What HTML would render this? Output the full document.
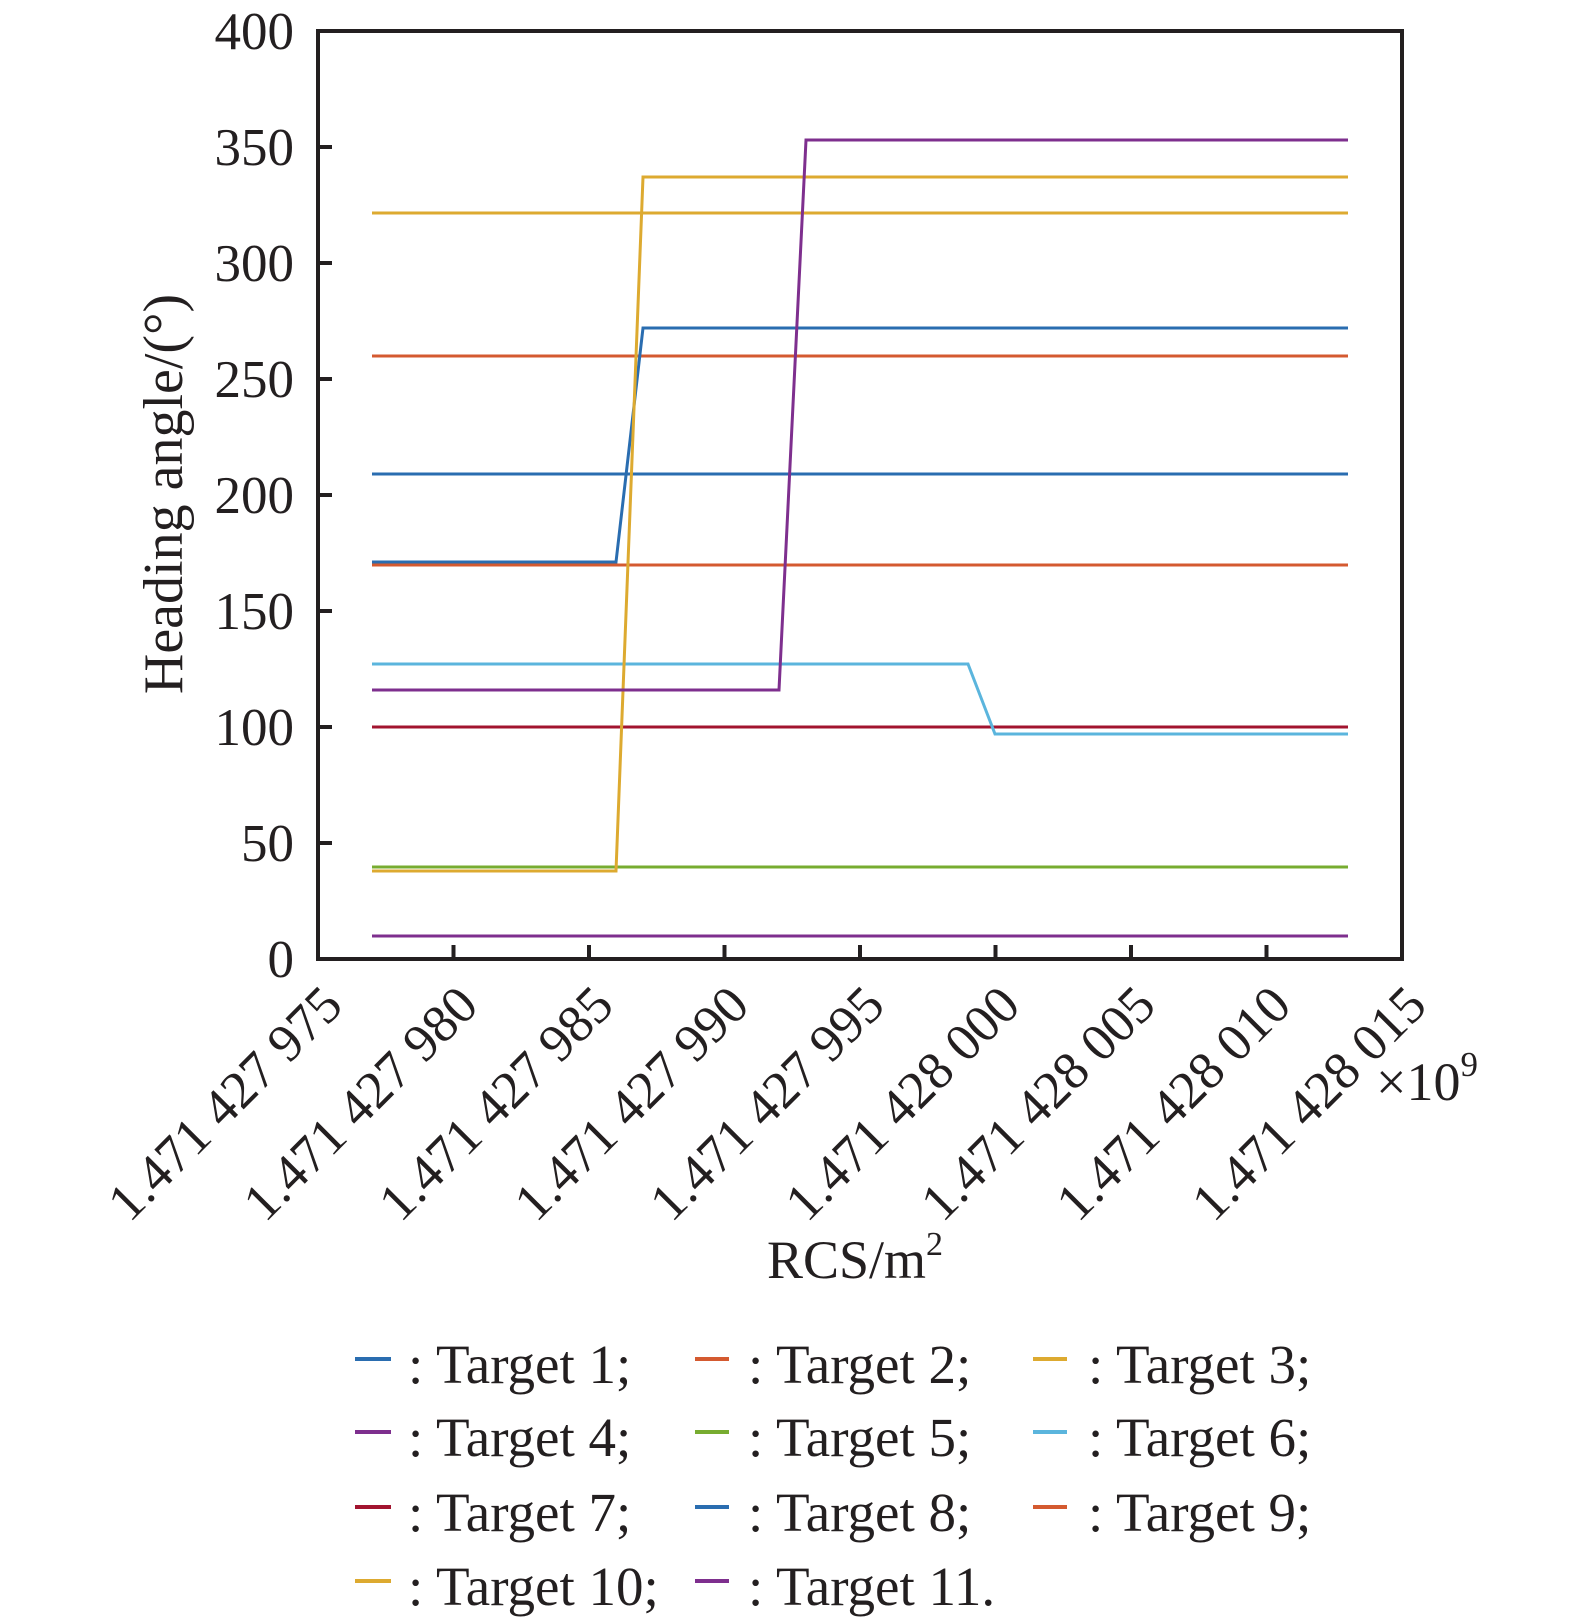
<!DOCTYPE html>
<html><head><meta charset="utf-8"><style>body{margin:0;background:#fff}svg{display:block}</style></head><body>
<svg width="1575" height="1624" viewBox="0 0 1575 1624" xmlns="http://www.w3.org/2000/svg" font-family="Liberation Serif, serif" fill="#231f20">
<g stroke-width="3" fill="none">
<polyline stroke="#DDAA30" points="372,213 1348,213"/>
<polyline stroke="#D45A30" points="372,356 1348,356"/>
<polyline stroke="#2A6DB0" points="372,474 1348,474"/>
<polyline stroke="#D45A30" points="372,565 1348,565"/>
<polyline stroke="#A2142F" points="372,727 1348,727"/>
<polyline stroke="#77AC30" points="372,867 1348,867"/>
<polyline stroke="#7E2F8E" points="372,936 1348,936"/>
<polyline stroke="#2A6DB0" points="372,562 616,562 643,328 1348,328"/>
<polyline stroke="#5BB5DD" points="372,664 968,664 995,734 1348,734"/>
<polyline stroke="#DDAA30" points="372,871 616,871 643,177 1348,177"/>
<polyline stroke="#7E2F8E" points="372,690 779,690 806,140 1348,140"/>
</g>
<rect x="318" y="31" width="1084" height="928" fill="none" stroke="#231f20" stroke-width="4"/>
<g stroke="#231f20" stroke-width="4">
<line x1="318" y1="843" x2="332" y2="843"/><line x1="318" y1="727" x2="332" y2="727"/><line x1="318" y1="611" x2="332" y2="611"/><line x1="318" y1="495" x2="332" y2="495"/><line x1="318" y1="379" x2="332" y2="379"/><line x1="318" y1="263" x2="332" y2="263"/><line x1="318" y1="147" x2="332" y2="147"/>
<line x1="453.5" y1="959" x2="453.5" y2="945"/><line x1="589" y1="959" x2="589" y2="945"/><line x1="724.5" y1="959" x2="724.5" y2="945"/><line x1="860" y1="959" x2="860" y2="945"/><line x1="995.5" y1="959" x2="995.5" y2="945"/><line x1="1131" y1="959" x2="1131" y2="945"/><line x1="1266.5" y1="959" x2="1266.5" y2="945"/>
</g>
<g font-size="53" text-anchor="end">
<text x="294" y="977">0</text><text x="294" y="861">50</text><text x="294" y="745">100</text><text x="294" y="629">150</text><text x="294" y="513">200</text><text x="294" y="397">250</text><text x="294" y="281">300</text><text x="294" y="165">350</text><text x="294" y="49">400</text>
</g>
<g font-size="53" text-anchor="end">
<text transform="translate(345,1008) rotate(-45)">1.471 427 975</text>
<text transform="translate(480.5,1008) rotate(-45)">1.471 427 980</text>
<text transform="translate(616,1008) rotate(-45)">1.471 427 985</text>
<text transform="translate(751.5,1008) rotate(-45)">1.471 427 990</text>
<text transform="translate(887,1008) rotate(-45)">1.471 427 995</text>
<text transform="translate(1022.5,1008) rotate(-45)">1.471 428 000</text>
<text transform="translate(1158,1008) rotate(-45)">1.471 428 005</text>
<text transform="translate(1293.5,1008) rotate(-45)">1.471 428 010</text>
<text transform="translate(1429,1008) rotate(-45)">1.471 428 015</text>
</g>
<text x="1376" y="1100" font-size="54">×10<tspan font-size="35" dy="-24">9</tspan></text>
<text font-size="56" text-anchor="middle" transform="translate(182,494) rotate(-90)">Heading angle/(°)</text>
<text x="855" y="1278" font-size="54" text-anchor="middle">RCS/m<tspan font-size="34" dy="-23">2</tspan></text>
<g stroke-width="4">
<line x1="355" y1="1359" x2="391" y2="1359" stroke="#2A6DB0"/><line x1="695" y1="1359" x2="729" y2="1359" stroke="#D45A30"/><line x1="1033" y1="1359" x2="1067" y2="1359" stroke="#DDAA30"/>
<line x1="355" y1="1432" x2="391" y2="1432" stroke="#7E2F8E"/><line x1="695" y1="1432" x2="729" y2="1432" stroke="#77AC30"/><line x1="1033" y1="1432" x2="1067" y2="1432" stroke="#5BB5DD"/>
<line x1="355" y1="1507" x2="391" y2="1507" stroke="#A2142F"/><line x1="695" y1="1507" x2="729" y2="1507" stroke="#2A6DB0"/><line x1="1033" y1="1507" x2="1067" y2="1507" stroke="#D45A30"/>
<line x1="355" y1="1581" x2="391" y2="1581" stroke="#DDAA30"/><line x1="695" y1="1581" x2="729" y2="1581" stroke="#7E2F8E"/>
</g>
<g font-size="55">
<text x="408" y="1383">: Target 1;</text><text x="748" y="1383">: Target 2;</text><text x="1088" y="1383">: Target 3;</text>
<text x="408" y="1456">: Target 4;</text><text x="748" y="1456">: Target 5;</text><text x="1088" y="1456">: Target 6;</text>
<text x="408" y="1531">: Target 7;</text><text x="748" y="1531">: Target 8;</text><text x="1088" y="1531">: Target 9;</text>
<text x="408" y="1605">: Target 10;</text><text x="748" y="1605">: Target 11.</text>
</g>
</svg>
</body></html>
